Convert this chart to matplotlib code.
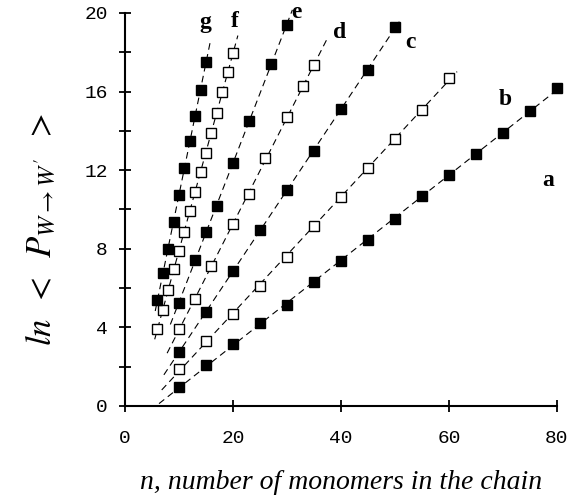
import numpy as np
import matplotlib
matplotlib.use("Agg")
import matplotlib.pyplot as plt

# data
n_a = [10, 15, 20, 25, 30, 35, 40, 45, 50, 55, 60, 65, 70, 75, 80]
y_a = [0.95, 2.07, 3.14, 4.2, 5.14, 6.33, 7.4, 8.45, 9.52, 10.7, 11.76, 12.8, 13.9, 15.0, 16.2]
n_b = [10, 15, 20, 25, 30, 35, 40, 45, 50, 55, 60]
y_b = [1.88, 3.3, 4.7, 6.1, 7.6, 9.16, 10.65, 12.1, 13.6, 15.06, 16.7]
n_c = [10, 15, 20, 25, 30, 35, 40, 45, 50]
y_c = [2.75, 4.78, 6.87, 8.96, 11.0, 13.0, 15.1, 17.1, 19.3]
n_d = [10, 13, 16, 20, 23, 26, 30, 33, 35]
y_d = [3.92, 5.46, 7.12, 9.26, 10.8, 12.6, 14.7, 16.3, 17.35]
n_e = [10, 13, 15, 17, 20, 23, 27, 30]
y_e = [5.26, 7.43, 8.87, 10.2, 12.35, 14.5, 17.4, 19.4]
n_f = [6, 7, 8, 9, 10, 11, 12, 13, 14, 15, 16, 17, 18, 19, 20]
y_f = [3.92, 4.9, 5.9, 6.96, 7.9, 8.87, 9.94, 10.9, 11.9, 12.9, 13.9, 14.9, 16.0, 17.0, 17.95]
n_g = [6, 7, 8, 9, 10, 11, 12, 13, 14, 15]
y_g = [5.4, 6.75, 8.0, 9.38, 10.75, 12.1, 13.5, 14.76, 16.1, 17.5]

labels = ["a", "b", "c", "d", "e", "f", "g"]
filled = [True, False, True, False, True, False, True]

series = [(n_a, y_a), (n_b, y_b), (n_c, y_c), (n_d, y_d), (n_e, y_e), (n_f, y_f), (n_g, y_g)]
# range of the dashed fit line, and where the letter sits
fit_range = [(6.3, 81), (6.8, 61.5), (7.2, 50.8), (7.8, 37.5), (8.4, 31), (5.5, 20.9), (5.6, 15.9)]
label_pos = [(78.3, 11.5), (70.5, 15.6), (52.8, 18.5), (39.8, 19.0), (31.8, 20.0), (20.4, 19.55), (14.8, 19.5)]

plt.rcParams["mathtext.fontset"] = "stix"

fig = plt.figure(figsize=(5.74, 5.04), dpi=100)
ax = fig.add_axes([125 / 574, 1 - 406 / 504, 432 / 574, 393 / 504])

for (n, y), lab, fill, (x0, x1), (lx, ly) in zip(series, labels, filled, fit_range, label_pos):
    k, b = np.polyfit(n, y, 1)
    xs = np.array([x0, x1])
    ax.plot(xs, k * xs + b, color="black", lw=0.8, dashes=(6, 4), clip_on=False, zorder=1)
    ax.plot(n, y, ls="none", marker="s", markersize=7.3,
            markerfacecolor="black" if fill else "white",
            markeredgecolor="black", markeredgewidth=1.0, clip_on=False, zorder=2)
    ax.text(lx, ly, lab, family="Liberation Serif", fontweight="bold", fontsize=17,
            ha="center", va="center", clip_on=False)

ax.set_xlim(0, 80)
ax.set_ylim(0, 20)
ax.set_xticks([0, 20, 40, 60, 80])
ax.set_yticks(np.arange(0, 21, 2))
ax.set_yticklabels([str(v) if v % 4 == 0 else "" for v in range(0, 21, 2)])

for s in ["top", "right"]:
    ax.spines[s].set_visible(False)
for s in ["left", "bottom"]:
    ax.spines[s].set_linewidth(1.5)

ax.tick_params(axis="both", direction="inout", length=9, width=1.3, colors="black",
               labelsize=14)
ax.tick_params(axis="x", pad=13)
ax.tick_params(axis="y", pad=8)
for t in ax.get_xticklabels() + ax.get_yticklabels():
    t.set_family("Liberation Mono")

ax.set_xlabel("n, number of monomers in the chain", family="Liberation Serif",
              style="italic", fontsize=20, labelpad=16)
ax.set_ylabel(r"$ln\;\;<\;\;P_{W \rightarrow W'}\;\;>$", fontsize=25)
ax.yaxis.set_label_coords(-0.155, 0.45)

fig.savefig("out.png", dpi=100)
